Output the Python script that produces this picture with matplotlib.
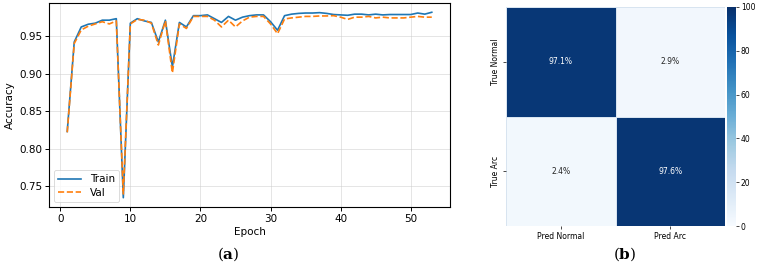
import numpy as np
import matplotlib
matplotlib.use("Agg")
import matplotlib.pyplot as plt
import seaborn as sns

epochs = list(range(1, 54))
train_acc = [0.823, 0.942, 0.962, 0.9656, 0.967, 0.971, 0.971, 0.973, 0.735, 0.967,
             0.973, 0.970, 0.968, 0.942, 0.971, 0.909, 0.968, 0.962, 0.977, 0.977,
             0.978, 0.973, 0.968, 0.976, 0.971, 0.975, 0.977, 0.978, 0.978, 0.969,
             0.9576, 0.977, 0.979, 0.980, 0.9805, 0.9805, 0.981, 0.980, 0.9785, 0.978,
             0.9775, 0.979, 0.979, 0.978, 0.979, 0.978, 0.9785, 0.9785, 0.9785, 0.9785,
             0.9805, 0.979, 0.9815]
val_acc = [0.822, 0.940, 0.958, 0.963, 0.966, 0.969, 0.966, 0.970, 0.740, 0.966,
           0.972, 0.971, 0.967, 0.938, 0.970, 0.901, 0.966, 0.960, 0.976, 0.976,
           0.976, 0.971, 0.962, 0.971, 0.962, 0.970, 0.975, 0.976, 0.976, 0.966,
           0.953, 0.9726, 0.974, 0.975, 0.976, 0.976, 0.9766, 0.9766, 0.977, 0.975,
           0.972, 0.975, 0.975, 0.976, 0.974, 0.975, 0.974, 0.974, 0.974, 0.975,
           0.976, 0.975, 0.975]

cm_values = [[97.1, 2.9], [2.4, 97.6]]
cm_xlabels = ["Pred Normal", "Pred Arc"]
cm_ylabels = ["True Normal", "True Arc"]
cbar_ticks = [0, 20, 40, 60, 80, 100]

plt.rcParams['mathtext.fontset'] = 'dejavuserif'

fig = plt.figure(figsize=(7.58, 2.65), dpi=100)

# (a) accuracy curves
ax = fig.add_axes([49/758, 58/265, 401/758, 204/265])
ax.plot(epochs, train_acc, color='#1f77b4', lw=1.2, label='Train')
ax.plot(epochs, val_acc, color='#ff7f0e', lw=1.2, ls='--', label='Val')
ax.set_xlabel('Epoch', fontsize=7.5, labelpad=2)
ax.set_ylabel('Accuracy', fontsize=7.5, labelpad=3)
ax.set_xticks([0, 10, 20, 30, 40, 50])
ax.set_yticks([0.75, 0.80, 0.85, 0.90, 0.95])
ax.tick_params(labelsize=7.5, length=3, width=0.7, pad=2)
ax.grid(True, color='#cccccc', alpha=0.6, lw=0.6)
for s in ax.spines.values():
    s.set_linewidth(0.8)
leg = ax.legend(loc='lower left', fontsize=7.5, frameon=True, handlelength=2.2,
                borderpad=0.4, labelspacing=0.3, handletextpad=0.8)
leg.get_frame().set_linewidth(0.6)

# (b) confusion matrix
hax = fig.add_axes([506/758, 39/265, 219/758, 219/265])
cax = fig.add_axes([727/758, 39/265, 9/758, 219/265])
sns.heatmap(np.array(cm_values), ax=hax, cbar_ax=cax, cmap='Blues', vmin=0, vmax=100,
            annot=np.array([[f"{v:.1f}%" for v in row] for row in cm_values]), fmt='',
            annot_kws={'fontsize': 5.5}, linewidths=0.6, linecolor='#d8e4f0',
            xticklabels=cm_xlabels, yticklabels=cm_ylabels,
            cbar_kws={'ticks': cbar_ticks})
hax.tick_params(labelsize=5.5, length=2, width=0.5, pad=2)
for lab in hax.get_yticklabels():
    lab.set_rotation(90)
    lab.set_va('center')
cax.tick_params(labelsize=5.5, length=2, width=0.5, pad=1.5)
for s in cax.spines.values():
    s.set_visible(False)

fig.text(228/758, 1 - 254/265, r'$(\mathbf{a})$', ha='center', va='center', fontsize=11)
fig.text(625/758, 1 - 254/265, r'$(\mathbf{b})$', ha='center', va='center', fontsize=11)

fig.savefig('out.png', dpi=100)
